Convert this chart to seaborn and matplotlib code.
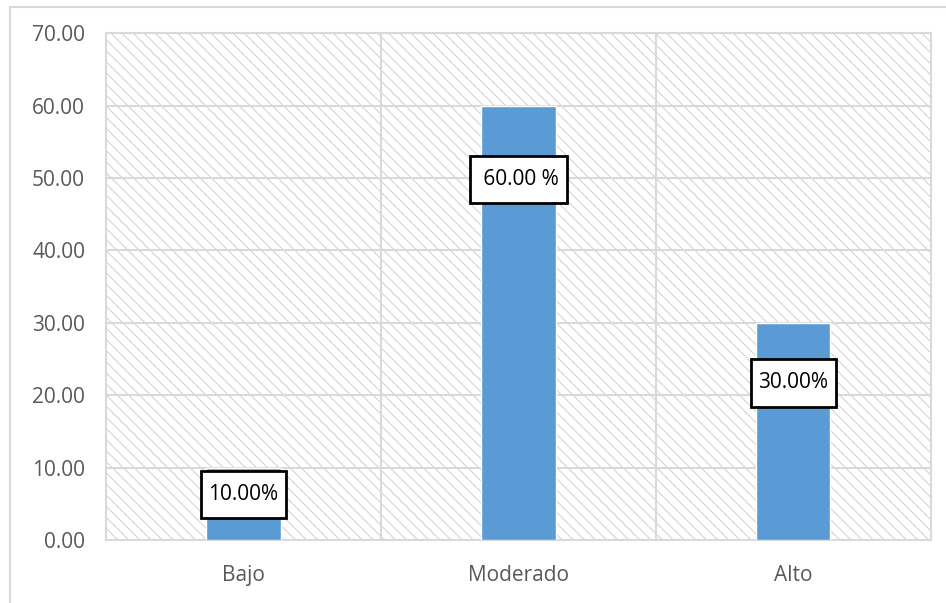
import matplotlib
matplotlib.use('Agg')
import matplotlib.pyplot as plt
import seaborn as sns
import pandas as pd
from matplotlib.patches import Rectangle

# Data
categories = ['Bajo', 'Moderado', 'Alto']
values = [10.0, 60.0, 30.0]
labels = ['10.00%', ' 60.00 %', '30.00%']
label_y = [6.28, 49.8, 21.7]
box_w = [0.31, 0.35, 0.31]

df = pd.DataFrame({'cat': categories, 'val': values})

sns.set_style('white')
plt.rcParams['font.family'] = ['Open Sans', 'DejaVu Sans']
plt.rcParams['hatch.linewidth'] = 0.75

fig = plt.figure(figsize=(9.46, 6.03), dpi=100)
ax = fig.add_axes([0.112, 0.1045, 0.872, 0.8405])

# outer chart border
fig.patches.append(Rectangle((10 / 946, -0.1), 1.2, 1 - 7 / 603 + 0.1, transform=fig.transFigure,
                             fill=False, edgecolor='#d9d9d9', linewidth=1.5, zorder=0))

# hatched plot area
ax.add_patch(Rectangle((0, 0), 1, 1, transform=ax.transAxes, facecolor='white',
                       edgecolor='#d2d2d2', linewidth=0, hatch='\\\\\\', zorder=0))

sns.barplot(data=df, x='cat', y='val', color='#5b9bd5', width=0.27, saturation=1, ax=ax, zorder=3)

ax.set_ylim(0, 70)
ax.set_xlim(-0.5, 2.5)
ax.set_yticks(range(0, 71, 10))
ax.set_yticklabels([f'{v:.2f}' for v in range(0, 71, 10)])
ax.yaxis.grid(True, color='#d9d9d9', linewidth=1.5, zorder=1)
for xv in [0.5, 1.5]:
    ax.axvline(xv, color='#d9d9d9', linewidth=1.5, zorder=1)
for s in ax.spines.values():
    s.set_color('#d9d9d9')
    s.set_linewidth(1.5)
ax.set_xlabel('')
ax.set_ylabel('')
ax.tick_params(axis='both', length=0, labelsize=15, colors='#595959')
ax.tick_params(axis='x', pad=18)
ax.tick_params(axis='y', pad=15)

# data label boxes
box_h = 6.6
for i, (lab, y, w) in enumerate(zip(labels, label_y, box_w)):
    ax.add_patch(Rectangle((i - w / 2, y - box_h / 2), w, box_h, facecolor='white',
                           edgecolor='black', linewidth=2, zorder=5))
    ax.text(i, y, lab, ha='center', va='center', fontsize=15, color='black', zorder=6)

fig.savefig('out.png', dpi=100)
